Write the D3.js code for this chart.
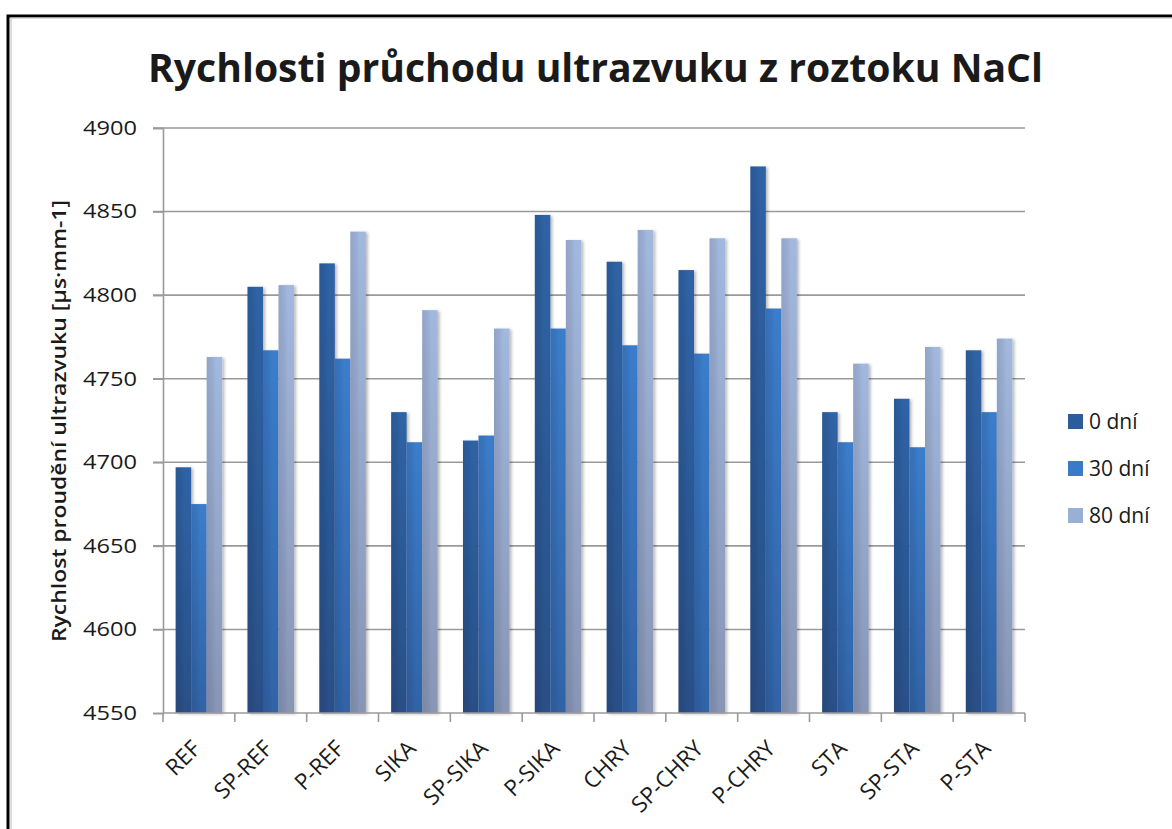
<!DOCTYPE html>
<html>
<head>
<meta charset="utf-8">
<script src="https://cdn.jsdelivr.net/npm/d3@7/dist/d3.min.js"></script>
<style>
  html, body { margin: 0; padding: 0; background: #fff; }
  svg { display: block; }
  text { font-family: "Open Sans", "Noto Sans", sans-serif; fill: #1a1a1a; }
</style>
</head>
<body>
<svg id="chart" width="1172" height="829"></svg>
<script>
// ---- data ----
const categories = ["REF", "SP-REF", "P-REF", "SIKA", "SP-SIKA", "P-SIKA", "CHRY", "SP-CHRY", "P-CHRY", "STA", "SP-STA", "P-STA"];
const seriesNames = ["0 dní", "30 dní", "80 dní"];
const values0 = [4697, 4805, 4819, 4730, 4713, 4848, 4820, 4815, 4877, 4730, 4738, 4767];
const values30 = [4675, 4767, 4762, 4712, 4716, 4780, 4770, 4765, 4792, 4712, 4709, 4730];
const values80 = [4763, 4806, 4838, 4791, 4780, 4833, 4839, 4834, 4834, 4759, 4769, 4774];
const yTicks = [4550, 4600, 4650, 4700, 4750, 4800, 4850, 4900];
const titleText = "Rychlosti průchodu ultrazvuku z roztoku NaCl";
const yAxisTitle = "Rychlost proudění ultrazvuku [µs·mm-1]";

(function () {
const seriesValues = [values0, values30, values80];
const colorsTop = ["#2f63a6", "#3b7dcc", "#a2b8de"];
const colorsBottom = ["#294f87", "#3163a6", "#8795b6"];
const legendColors = ["#2c5c9c", "#3a7ac8", "#9aafd6"];

const svg = d3.select("#chart");
const W = 1172, H = 829;
const pLeft = 163, pRight = 1025, pTop = 128, pBottom = 713;

svg.append("rect").attr("width", W).attr("height", H).attr("fill", "#fff");

const defs = svg.append("defs");
seriesNames.forEach((s, i) => {
  const g = defs.append("linearGradient").attr("id", "grad" + i)
    .attr("x1", 0).attr("y1", 0).attr("x2", 0).attr("y2", 1);
  g.append("stop").attr("offset", "0%").attr("stop-color", colorsTop[i]);
  g.append("stop").attr("offset", "100%").attr("stop-color", colorsBottom[i]);
});
const hs = defs.append("linearGradient").attr("id", "hshade")
  .attr("x1", 0).attr("y1", 0).attr("x2", 1).attr("y2", 0);
hs.append("stop").attr("offset", "0%").attr("stop-color", "#000").attr("stop-opacity", 0.10);
hs.append("stop").attr("offset", "35%").attr("stop-color", "#000").attr("stop-opacity", 0.06);
hs.append("stop").attr("offset", "60%").attr("stop-color", "#000").attr("stop-opacity", 0);
hs.append("stop").attr("offset", "100%").attr("stop-color", "#000").attr("stop-opacity", 0);
const f = defs.append("filter").attr("id", "shadow").attr("x", "-20%").attr("y", "-5%").attr("width", "160%").attr("height", "110%");
f.append("feDropShadow").attr("dx", 2).attr("dy", 1).attr("stdDeviation", 1.5)
  .attr("flood-color", "#000").attr("flood-opacity", 0.28);

// frame
svg.append("rect").attr("x", 8).attr("y", 16).attr("width", W).attr("height", H)
  .attr("fill", "none").attr("stroke", "#000").attr("stroke-width", 3);
svg.append("line").attr("x1", 11).attr("x2", 11).attr("y1", 18).attr("y2", H)
  .attr("stroke", "#bbb").attr("stroke-width", 1);
svg.append("line").attr("x1", 11).attr("x2", W).attr("y1", 18).attr("y2", 18)
  .attr("stroke", "#bbb").attr("stroke-width", 1);

// scales
const y = d3.scaleLinear().domain([4550, 4900]).range([pBottom, pTop]);
const xBand = d3.scaleBand().domain(categories).range([pLeft, pRight]).paddingInner(0.352).paddingOuter(0.176);
const xStep = d3.scaleBand().domain(categories).range([pLeft, pRight]).padding(0);
const xInner = d3.scaleBand().domain(d3.range(seriesNames.length)).range([0, xBand.bandwidth()]).padding(0);

// gridlines
svg.append("g").selectAll("line").data(yTicks.filter(t => t !== 4550)).join("line")
  .attr("x1", pLeft - 10).attr("x2", pRight)
  .attr("y1", d => y(d)).attr("y2", d => y(d))
  .attr("stroke", "#9a9a9a").attr("stroke-width", 1.6);

// bars
const groups = svg.append("g").selectAll("g").data(categories).join("g")
  .attr("transform", d => `translate(${xBand(d)},0)`);
seriesNames.forEach((s, i) => {
  groups.append("rect")
    .attr("x", xInner(i)).attr("width", xInner.bandwidth())
    .attr("y", (d, j) => y(seriesValues[i][j]))
    .attr("height", (d, j) => y(4550) - y(seriesValues[i][j]))
    .attr("fill", `url(#grad${i})`)
    .attr("filter", "url(#shadow)");
  groups.append("rect")
    .attr("x", xInner(i)).attr("width", xInner.bandwidth())
    .attr("y", (d, j) => y(seriesValues[i][j]))
    .attr("height", (d, j) => y(4550) - y(seriesValues[i][j]))
    .attr("fill", "url(#hshade)");
});

// y axis
const yAxis = d3.axisLeft(y).tickValues(yTicks).tickSize(10).tickPadding(16).tickFormat(d3.format("d"));
const gy = svg.append("g").attr("transform", `translate(${pLeft},0)`).call(yAxis);
gy.select(".domain").attr("stroke", "#9a9a9a").attr("stroke-width", 1.6);
gy.selectAll(".tick line").attr("stroke", "#9a9a9a").attr("stroke-width", 1.6);
gy.selectAll(".tick text").attr("font-size", 20).attr("fill", "#222")
  .attr("font-family", "'Open Sans', sans-serif")
  .attr("textLength", 54).attr("lengthAdjust", "spacingAndGlyphs");

// x axis
const gx = svg.append("g").attr("transform", `translate(0,${pBottom})`);
gx.append("line").attr("x1", pLeft).attr("x2", pRight).attr("y1", 0).attr("y2", 0)
  .attr("stroke", "#9a9a9a").attr("stroke-width", 1.6);
const tickPos = categories.map(c => xStep(c)).concat([xStep(categories[categories.length - 1]) + xStep.step()]);
gx.selectAll("line.t").data(tickPos).join("line").attr("class", "t")
  .attr("x1", d => d).attr("x2", d => d).attr("y1", 0).attr("y2", 9)
  .attr("stroke", "#9a9a9a").attr("stroke-width", 1.6);
gx.selectAll("text").data(categories).join("text")
  .attr("transform", d => `translate(${xStep(d) + xStep.bandwidth() / 2 + 3},${37}) rotate(-45)`)
  .attr("text-anchor", "end")
  .attr("font-size", 22.5)
  .attr("fill", "#222")
  .text(d => d);

// title
svg.append("text").attr("x", 595.5).attr("y", 82).attr("text-anchor", "middle")
  .attr("font-size", 40).attr("font-weight", "bold").attr("fill", "#111")
  .attr("textLength", 895).attr("lengthAdjust", "spacingAndGlyphs")
  .text(titleText);

// y axis title
svg.append("text").attr("transform", `translate(66,421) rotate(-90)`)
  .attr("text-anchor", "middle").attr("font-size", 19).attr("font-weight", 600).attr("fill", "#111")
  .attr("textLength", 442).attr("lengthAdjust", "spacingAndGlyphs")
  .text(yAxisTitle);

// legend
const legendY = [421, 468, 515];
const lg = svg.append("g").selectAll("g").data(seriesNames).join("g")
  .attr("transform", (d, i) => `translate(1068,${legendY[i]})`);
lg.append("rect").attr("x", 0).attr("y", -7).attr("width", 15).attr("height", 15)
  .attr("fill", (d, i) => legendColors[i]);
lg.append("text").attr("x", 21).attr("y", 8).attr("font-size", 21).attr("fill", "#222").text(d => d);
})();
</script>
</body>
</html>
